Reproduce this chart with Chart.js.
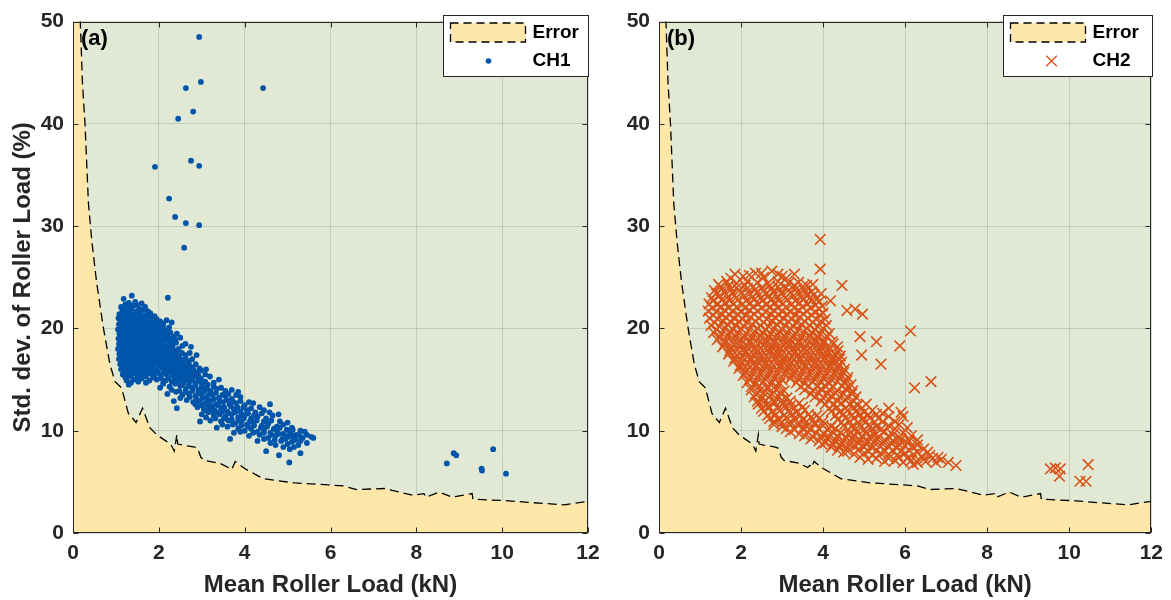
<!DOCTYPE html>
<html><head><meta charset="utf-8">
<script src="https://cdn.jsdelivr.net/npm/chart.js@4.4.1/dist/chart.umd.min.js"></script>
<style>
html,body{margin:0;padding:0;background:#fff;}
#wrap{position:relative;width:1171px;height:600px;overflow:hidden;}
canvas{position:absolute;top:0;}
</style></head><body>
<div id="wrap">
<canvas id="c1" width="620" height="600" style="left:0;width:620px;height:600px"></canvas>
<canvas id="c2" width="551" height="600" style="left:620px;width:551px;height:600px"></canvas>
</div>
<script>
const xTicks=[0,2,4,6,8,10,12];
const yTicks=[0,10,20,30,40,50];
const xTitle='Mean Roller Load (kN)';
const yTitle='Std. dev. of Roller Load (%)';
const legendError='Error';
const series1='CH1', series2='CH2';

// error boundary (mean load vs std-dev)
const errX=[0,0.1,0.17,0.22,0.28,0.36,0.44,0.55,0.71,0.86,0.98,1.13,1.29,1.47,1.62,1.79,1.95,2.22,2.30,2.36,2.42,2.44,2.55,2.84,2.9,2.98,3.05,3.43,3.62,3.68,3.72,3.78,4.0,4.44,5.16,5.96,6.3,6.61,7.25,7.6,7.91,8.18,8.22,8.54,8.83,9.3,9.32,10.15,10.6,11.44,12];
const errY=[120,62,50,44,40,32.2,28.5,24.5,20,16.5,14.8,14.2,11.7,10.8,12.2,10.3,9.6,8.85,8.5,8.0,9.6,8.7,8.6,8.4,8.3,7.4,7.1,6.8,6.4,6.6,6.4,7.0,6.3,5.3,4.9,4.7,4.6,4.25,4.35,4.0,3.7,3.85,3.5,4.0,3.5,3.85,3.3,3.15,3.0,2.75,3.1];

const ch1=[
[2.94,48.5],[2.98,44.1],[2.63,43.5],[4.43,43.5],[2.80,41.2],[2.45,40.5],[2.75,36.4],[2.94,35.9],[1.91,35.8],[2.24,32.7],[2.38,30.9],[2.63,30.3],[2.94,30.1],[2.59,27.9],[2.21,23.0],
[8.71,6.8],[8.87,7.8],[8.93,7.6],[9.52,6.3],[9.53,6.1],[9.79,8.2],[10.09,5.8],
[1.18,22.9],[1.37,23.2],[1.30,22.5],[1.45,22.6],
[1.12,22.1],[1.25,21.9],[1.40,22.2],[1.55,21.9],[1.68,22.1],
[1.08,21.4],[1.19,21.6],[1.31,21.5],[1.43,21.4],[1.56,21.6],[1.69,21.3],[1.80,21.5],
[1.06,21.0],[1.16,20.9],[1.27,21.1],[1.37,20.9],[1.48,21.0],[1.59,21.1],[1.71,20.8],[1.84,21.0],[1.95,20.9],
[1.07,20.4],[1.17,20.6],[1.27,20.5],[1.38,20.4],[1.49,20.6],[1.61,20.5],[1.72,20.4],[1.85,20.6],[1.97,20.4],[2.10,20.5],[2.30,20.6],
[1.05,19.9],[1.14,20.1],[1.24,20.0],[1.34,19.9],[1.45,20.1],[1.56,20.0],[1.66,19.9],[1.78,20.1],[1.91,19.9],[2.04,20.0],[2.16,19.8],
[1.08,19.5],[1.18,19.4],[1.29,19.6],[1.40,19.5],[1.51,19.4],[1.62,19.6],[1.73,19.5],[1.84,19.4],[1.96,19.6],[2.09,19.5],[2.20,19.3],[2.35,19.2],[2.50,19.1],
[1.06,19.0],[1.16,19.1],[1.26,18.9],[1.37,19.0],[1.47,19.1],[1.58,18.9],[1.69,19.0],[1.80,19.1],[1.92,18.9],[2.03,19.0],[2.15,18.9],[2.28,18.8],
[1.07,18.5],[1.17,18.4],[1.28,18.6],[1.39,18.5],[1.49,18.4],[1.60,18.6],[1.71,18.5],[1.83,18.4],[1.95,18.6],[2.07,18.5],[2.19,18.3],[2.31,18.4],[2.55,18.3],[2.75,18.2],
[1.05,18.0],[1.15,18.1],[1.25,17.9],[1.35,18.0],[1.46,18.1],[1.57,17.9],[1.68,18.0],[1.79,18.1],[1.90,17.9],[2.02,18.0],[2.13,18.1],[2.25,17.9],[2.38,17.8],
[1.08,17.5],[1.19,17.4],[1.30,17.6],[1.41,17.5],[1.52,17.4],[1.63,17.6],[1.74,17.5],[1.86,17.4],[1.98,17.6],[2.10,17.5],[2.22,17.4],[2.35,17.5],[2.46,17.3],[2.62,17.4],[2.88,17.4],
[1.07,17.0],[1.18,16.9],[1.28,17.1],[1.38,17.0],[1.49,16.9],[1.60,17.1],[1.72,17.0],[1.83,16.9],[1.94,17.1],[2.06,17.0],[2.18,16.9],[2.30,17.0],[2.42,16.8],[2.55,16.9],[2.70,16.8],
[1.10,16.5],[1.21,16.4],[1.32,16.6],[1.43,16.5],[1.55,16.4],[1.66,16.6],[1.77,16.5],[1.89,16.4],[2.01,16.6],[2.13,16.5],[2.25,16.4],[2.37,16.5],[2.50,16.3],[2.62,16.4],[2.78,16.2],[2.95,16.1],
[1.12,16.0],[1.24,15.9],[1.35,16.1],[1.47,16.0],[1.58,15.9],[1.70,16.1],[1.82,16.0],[1.95,15.9],[2.08,16.1],[2.21,16.0],[2.33,15.9],[2.46,15.9],[2.60,15.8],[2.72,15.9],[2.88,15.7],[3.10,16.0],
[1.16,15.5],[1.28,15.4],[1.40,15.6],[1.53,15.5],[1.65,15.4],[1.78,15.6],[1.91,15.5],[2.05,15.4],[2.18,15.5],[2.32,15.4],[2.45,15.3],[2.58,15.4],[2.70,15.2],[2.83,15.3],[2.98,15.1],[3.19,15.3],
[1.25,14.9],[1.42,15.0],[1.60,15.1],[1.78,14.9],[1.95,15.0],[2.15,14.9],[2.30,14.8],[2.44,14.9],[2.58,14.7],[2.71,14.8],[2.86,14.6],[3.00,14.7],[3.14,14.5],[3.40,15.0],
[1.30,14.5],[2.03,14.2],[2.25,14.3],[2.50,14.4],[2.63,14.1],[2.78,14.2],[2.92,14.0],[3.05,14.2],[3.20,13.9],[3.35,14.1],[3.55,13.9],[3.85,13.8],
[2.20,13.6],[2.40,13.8],[2.55,13.5],[2.70,13.6],[2.85,13.4],[2.98,13.6],[3.12,13.3],[3.25,13.5],[3.40,13.2],[3.55,13.4],[3.70,13.1],[3.90,13.3],
[2.35,12.9],[2.65,13.0],[2.80,12.8],[2.95,12.9],[3.08,12.7],[3.20,12.9],[3.33,12.6],[3.50,12.8],[3.65,12.6],[3.80,12.7],[4.00,12.5],[4.20,12.7],
[2.42,12.2],[2.90,12.3],[3.05,12.1],[3.18,12.3],[3.30,12.0],[3.45,12.2],[3.60,11.9],[3.75,12.1],[3.90,11.9],[4.05,12.0],[4.25,11.8],[4.45,12.0],[4.59,12.6],
[3.00,11.6],[3.15,11.8],[3.28,11.5],[3.42,11.6],[3.55,11.4],[3.70,11.6],[3.85,11.3],[4.00,11.5],[4.15,11.2],[4.30,11.4],[4.50,11.2],[4.65,11.5],[4.79,11.6],
[2.96,10.9],[3.20,11.0],[3.45,10.9],[3.62,11.0],[3.78,10.7],[3.92,10.9],[4.05,10.6],[4.20,10.8],[4.40,10.5],[4.55,10.7],[4.75,10.4],[4.90,10.6],[5.10,10.3],
[3.35,10.3],[3.60,10.4],[3.85,10.2],[4.00,10.0],[4.15,10.2],[4.30,9.9],[4.45,10.1],[4.60,9.8],[4.75,10.0],[4.90,9.7],[5.05,9.9],[5.20,9.6],[5.40,9.9],
[3.66,9.2],[3.75,9.8],[4.10,9.5],[4.35,9.6],[4.55,9.3],[4.72,9.5],[4.88,9.2],[5.02,9.4],[5.18,9.1],[5.35,9.3],[5.55,9.4],[5.60,9.3],
[4.30,9.0],[4.60,8.8],[4.85,9.0],[5.00,8.7],[5.10,8.9],[5.25,8.6],[5.45,8.8],[4.50,8.0],[4.80,7.6],[4.90,8.4],[5.04,6.9],[5.30,7.8],[5.05,8.2],
[1.22,22.35],[1.34,22.25],[1.48,22.3],[1.60,22.45],
[1.15,21.8],[1.25,21.7],[1.36,21.85],[1.49,21.7],[1.62,21.8],[1.74,21.7],
[1.11,21.3],[1.22,21.2],[1.32,21.3],[1.42,21.2],[1.53,21.3],[1.64,21.2],[1.76,21.3],[1.90,21.2],
[1.11,20.7],[1.21,20.8],[1.32,20.7],[1.43,20.8],[1.54,20.7],[1.66,20.8],[1.78,20.7],[1.90,20.8],[2.03,20.7],[2.18,20.8],
[1.10,20.25],[1.20,20.3],[1.30,20.2],[1.41,20.3],[1.52,20.2],[1.63,20.3],[1.74,20.2],[1.86,20.3],[1.98,20.2],[2.10,20.25],[2.24,20.1],
[1.11,19.7],[1.22,19.8],[1.33,19.7],[1.44,19.8],[1.55,19.7],[1.66,19.8],[1.77,19.7],[1.89,19.8],[2.01,19.7],[2.13,19.8],[2.27,19.6],[2.42,19.5],
[1.10,19.2],[1.21,19.3],[1.32,19.2],[1.42,19.3],[1.53,19.2],[1.64,19.3],[1.75,19.2],[1.86,19.3],[1.98,19.2],[2.10,19.3],[2.22,19.1],[2.38,18.9],
[1.11,18.7],[1.22,18.8],[1.33,18.7],[1.44,18.8],[1.55,18.7],[1.66,18.8],[1.77,18.7],[1.89,18.8],[2.01,18.7],[2.13,18.8],[2.25,18.6],[2.40,18.6],[2.62,18.5],
[1.10,18.2],[1.20,18.3],[1.30,18.2],[1.41,18.3],[1.52,18.2],[1.63,18.3],[1.74,18.2],[1.85,18.3],[1.96,18.2],[2.08,18.3],[2.20,18.1],[2.32,18.2],[2.46,18.0],
[1.12,17.7],[1.24,17.8],[1.35,17.7],[1.46,17.8],[1.57,17.7],[1.68,17.8],[1.80,17.7],[1.92,17.8],[2.04,17.7],[2.16,17.8],[2.28,17.6],[2.41,17.7],[2.54,17.6],[2.72,17.6],
[1.12,17.2],[1.23,17.3],[1.33,17.2],[1.44,17.3],[1.55,17.2],[1.66,17.3],[1.78,17.2],[1.89,17.3],[2.00,17.2],[2.12,17.3],[2.24,17.1],[2.36,17.2],[2.48,17.1],[2.62,17.1],[2.78,17.0],
[1.15,16.7],[1.26,16.8],[1.37,16.7],[1.49,16.8],[1.60,16.7],[1.72,16.8],[1.83,16.7],[1.95,16.8],[2.07,16.7],[2.19,16.8],[2.31,16.7],[2.44,16.6],[2.57,16.6],[2.70,16.5],[2.86,16.5],
[1.18,16.2],[1.30,16.3],[1.41,16.2],[1.53,16.3],[1.64,16.2],[1.76,16.3],[1.88,16.2],[2.02,16.3],[2.15,16.2],[2.27,16.3],[2.40,16.1],[2.53,16.1],[2.66,16.0],[2.80,16.0],[2.98,15.9],
[1.22,15.7],[1.34,15.8],[1.47,15.7],[1.59,15.8],[1.72,15.7],[1.85,15.8],[1.98,15.7],[2.12,15.8],[2.25,15.7],[2.39,15.6],[2.52,15.6],[2.64,15.5],[2.77,15.5],[2.92,15.4],[3.08,15.5],
[1.22,15.2],[1.35,15.3],[1.50,15.2],[1.70,15.3],[1.86,15.2],[2.05,15.1],[2.22,15.1],[2.38,15.1],[2.52,15.0],[2.65,15.0],[2.78,14.9],[2.92,14.9],[3.08,14.8],[3.28,14.7],
[1.35,14.7],[1.52,14.8],[1.70,14.7],[2.10,14.6],[2.38,14.6],[2.55,14.5],[2.70,14.4],[2.85,14.4],[3.0,14.3],[3.12,14.1],[3.28,14.3],[3.45,14.2],[3.70,14.0],
[2.30,14.0],[2.48,13.9],[2.62,13.8],[2.78,13.9],[2.92,13.7],[3.05,13.8],[3.18,13.6],[3.33,13.7],[3.48,13.5],[3.62,13.6],[3.80,13.5],
[2.50,13.2],[2.72,13.3],[2.88,13.1],[3.02,13.2],[3.15,13.0],[3.28,13.1],[3.42,12.9],[3.58,13.0],[3.72,12.9],[3.90,12.9],[4.10,12.8],
[2.85,12.6],[2.98,12.5],[3.12,12.6],[3.25,12.4],[3.38,12.5],[3.52,12.3],[3.68,12.4],[3.83,12.3],[3.97,12.3],[4.15,12.2],[4.35,12.3],
[3.08,12.0],[3.22,11.9],[3.35,11.8],[3.48,11.9],[3.62,11.7],[3.78,11.8],[3.93,11.6],[4.08,11.7],[4.22,11.5],[4.40,11.7],[4.58,11.8],
[3.10,11.3],[3.32,11.2],[3.52,11.2],[3.70,11.1],[3.85,11.0],[3.98,11.2],[4.12,10.9],[4.28,11.0],[4.45,10.9],[4.62,11.0],[4.82,10.9],[5.0,10.8],
[3.48,10.6],[3.72,10.6],[3.92,10.5],[4.08,10.4],[4.22,10.5],[4.38,10.3],[4.52,10.4],[4.68,10.2],[4.82,10.3],[4.98,10.1],[5.12,10.1],[5.30,10.0],
[3.90,9.9],[4.20,9.8],[4.45,9.8],[4.62,9.6],[4.80,9.7],[4.95,9.5],[5.10,9.6],[5.28,9.5],[5.45,9.6],
[4.45,9.2],[4.70,9.1],[4.95,9.2],[5.15,9.2],[5.30,9.0],[4.72,8.6],[5.15,8.4]
];

const ch2=[
[3.93,28.7],[3.93,25.8],[4.46,24.2],[4.18,22.7],[4.58,21.75],[4.78,21.9],[4.96,21.4],[4.9,19.2],[5.3,18.7],[5.41,16.5],[5.87,18.3],[6.13,19.75],[6.23,14.2],[6.63,14.8],[4.94,17.4],[3.75,24.3],[3.95,23.4],
[9.54,6.26],[9.66,6.36],[9.78,6.26],[9.76,5.55],[10.46,6.68],[10.26,5.06],[10.41,5.06],
[2.05,25.1],[2.35,25.4],[2.75,25.6],[3.3,25.3],[1.75,24.9],[2.55,25.0],[3.0,25.1],
[1.45,24.3],[1.65,24.6],[1.9,24.4],[2.15,24.6],[2.4,24.5],[2.65,24.4],[2.9,24.6],[3.15,24.4],[3.4,24.5],[3.6,24.2],
[1.35,23.7],[1.55,23.9],[1.75,23.8],[1.95,23.7],[2.15,23.9],[2.35,23.8],[2.55,23.7],[2.75,23.9],[2.95,23.8],[3.15,23.7],[3.35,23.9],[3.55,23.7],[3.72,23.6],
[1.28,23.0],[1.48,23.2],[1.68,23.1],[1.88,23.0],[2.08,23.2],[2.28,23.1],[2.48,23.0],[2.68,23.2],[2.88,23.1],[3.08,23.0],[3.28,23.2],[3.48,23.1],[3.68,23.0],[3.85,22.9],
[1.22,22.4],[1.42,22.3],[1.62,22.5],[1.82,22.4],[2.02,22.3],[2.22,22.5],[2.42,22.4],[2.62,22.3],[2.82,22.5],[3.02,22.4],[3.22,22.3],[3.42,22.5],[3.62,22.4],[3.82,22.3],[3.98,22.2],
[1.2,21.7],[1.4,21.6],[1.6,21.8],[1.8,21.7],[2.0,21.6],[2.2,21.8],[2.4,21.7],[2.6,21.6],[2.8,21.8],[3.0,21.7],[3.2,21.6],[3.4,21.8],[3.6,21.7],[3.8,21.6],[4.0,21.5],
[1.23,21.0],[1.43,20.9],[1.63,21.1],[1.83,21.0],[2.03,20.9],[2.23,21.1],[2.43,21.0],[2.63,20.9],[2.83,21.1],[3.03,21.0],[3.23,20.9],[3.43,21.1],[3.63,21.0],[3.83,20.9],[4.05,20.9],
[1.27,20.3],[1.47,20.2],[1.67,20.4],[1.87,20.3],[2.07,20.2],[2.27,20.4],[2.47,20.3],[2.67,20.2],[2.87,20.4],[3.07,20.3],[3.27,20.2],[3.47,20.4],[3.67,20.3],[3.87,20.2],[4.08,20.3],
[1.33,19.6],[1.53,19.5],[1.73,19.7],[1.93,19.6],[2.13,19.5],[2.33,19.7],[2.53,19.6],[2.73,19.5],[2.93,19.7],[3.13,19.6],[3.33,19.5],[3.53,19.7],[3.73,19.6],[3.93,19.5],[4.15,19.5],
[1.42,18.9],[1.62,18.8],[1.82,19.0],[2.02,18.9],[2.22,18.8],[2.42,19.0],[2.62,18.9],[2.82,18.8],[3.02,19.0],[3.22,18.9],[3.42,18.8],[3.62,19.0],[3.82,18.9],[4.02,18.8],[4.22,18.7],
[1.55,18.2],[1.75,18.1],[1.95,18.3],[2.15,18.2],[2.35,18.1],[2.55,18.3],[2.75,18.2],[2.95,18.1],[3.15,18.3],[3.35,18.2],[3.55,18.1],[3.75,18.3],[3.95,18.2],[4.15,18.1],[4.35,18.2],
[1.7,17.5],[1.9,17.4],[2.1,17.6],[2.3,17.5],[2.5,17.4],[2.7,17.6],[2.9,17.5],[3.1,17.4],[3.3,17.6],[3.5,17.5],[3.7,17.4],[3.9,17.6],[4.1,17.5],[4.3,17.4],[4.42,17.3],
[1.82,16.8],[2.02,16.7],[2.22,16.9],[2.42,16.8],[2.62,16.7],[2.82,16.9],[3.02,16.8],[3.22,16.7],[3.42,16.9],[3.62,16.8],[3.82,16.7],[4.02,16.9],[4.22,16.8],[4.45,16.7],
[1.95,16.1],[2.15,16.0],[2.35,16.2],[2.55,16.1],[2.75,16.0],[2.95,16.2],[3.15,16.1],[3.35,16.0],[3.55,16.2],[3.75,16.1],[3.95,16.0],[4.15,16.2],[4.35,16.1],[4.52,16.0],
[2.05,15.4],[2.25,15.3],[2.45,15.5],[2.65,15.4],[2.85,15.3],[3.05,15.5],[3.25,15.4],[3.45,15.3],[3.65,15.5],[3.85,15.4],[4.05,15.3],[4.25,15.5],[4.45,15.4],[4.6,15.2],
[2.15,14.7],[2.35,14.6],[2.55,14.8],[2.75,14.7],[2.95,14.6],[3.35,14.7],[3.55,14.6],[3.75,14.8],[3.95,14.7],[4.15,14.6],[4.35,14.8],[4.55,14.7],[4.68,14.5],
[2.25,14.0],[2.45,13.9],[2.65,14.1],[2.85,14.0],[3.05,13.9],[3.55,14.0],[3.75,13.9],[3.95,14.1],[4.15,14.0],[4.35,13.9],[4.55,14.1],[4.72,13.9],
[2.32,13.3],[2.52,13.2],[2.72,13.4],[2.92,13.3],[3.12,13.2],[3.8,13.3],[4.0,13.2],[4.2,13.4],[4.4,13.3],[4.6,13.2],[4.8,13.3],
[2.42,12.6],[2.62,12.5],[2.82,12.7],[3.02,12.6],[3.22,12.5],[3.42,12.7],[4.05,12.6],[4.25,12.5],[4.45,12.7],[4.65,12.6],[4.85,12.5],[5.05,12.6],[5.6,12.2],
[2.55,11.9],[2.75,11.8],[2.95,12.0],[3.15,11.9],[3.35,11.8],[3.55,12.0],[4.2,11.9],[4.4,11.8],[4.6,12.0],[4.8,11.9],[5.0,11.8],[5.2,12.0],[5.45,11.7],[5.9,11.8],
[2.7,11.2],[2.9,11.1],[3.1,11.3],[3.3,11.2],[3.5,11.1],[3.7,11.3],[3.9,11.2],[4.35,11.1],[4.55,11.3],[4.75,11.2],[4.95,11.1],[5.15,11.3],[5.35,11.2],[5.6,11.4],[5.95,11.4],[5.75,10.9],
[2.8,10.6],[3.0,10.4],[3.2,10.6],[3.4,10.5],[3.6,10.4],[3.8,10.6],[4.0,10.5],[4.2,10.4],[4.5,10.5],[4.7,10.4],[4.9,10.6],[5.1,10.5],[5.3,10.4],[5.6,10.5],[5.85,10.6],[6.05,10.3],
[3.2,9.9],[3.42,9.7],[3.62,9.9],[3.82,9.8],[4.02,9.7],[4.22,9.9],[4.42,9.8],[4.62,9.7],[4.82,9.9],[5.02,9.8],[5.22,9.7],[5.5,9.9],[5.7,9.6],[5.95,9.8],[6.15,9.5],
[3.7,9.2],[3.9,9.0],[4.1,9.2],[4.3,9.1],[4.5,9.0],[4.7,9.2],[4.9,9.1],[5.1,9.0],[5.3,9.2],[5.5,9.1],[5.7,9.0],[5.9,9.2],[6.1,9.0],[6.3,9.1],
[3.97,8.7],[4.2,8.4],[4.4,8.5],[4.6,8.3],[4.8,8.5],[5.0,8.4],[5.2,8.3],[5.4,8.5],[5.6,8.4],[5.8,8.3],[6.0,8.5],[6.2,8.4],[6.45,8.2],
[4.5,7.9],[4.75,7.7],[5.0,7.8],[5.2,7.6],[5.4,7.8],[5.6,7.7],[5.8,7.6],[6.0,7.8],[6.2,7.7],[6.4,7.5],[6.6,7.6],[6.8,7.4],
[5.1,7.2],[5.5,7.0],[5.75,7.1],[5.95,6.9],[6.15,7.1],[6.3,6.9],[6.5,7.0],[6.67,7.3],[6.88,7.2],[7.05,6.9],[7.24,6.6],[6.2,6.7],
[1.85,25.3],[2.2,25.2],[2.5,25.4],[2.9,25.3],[3.1,24.9],
[1.5,24.1],[1.7,24.2],[1.9,24.0],[2.1,24.2],[2.3,24.1],[2.5,24.0],[2.7,24.2],[2.9,24.1],[3.1,24.0],[3.3,24.2],[3.5,24.1],
[1.4,23.4],[1.6,23.5],[1.8,23.4],[2.0,23.5],[2.2,23.4],[2.4,23.5],[2.6,23.4],[2.8,23.5],[3.0,23.4],[3.2,23.5],[3.4,23.4],[3.6,23.3],[3.78,23.3],
[1.32,22.7],[1.52,22.8],[1.72,22.7],[1.92,22.8],[2.12,22.7],[2.32,22.8],[2.52,22.7],[2.72,22.8],[2.92,22.7],[3.12,22.8],[3.32,22.7],[3.52,22.8],[3.72,22.7],[3.9,22.6],
[1.3,22.0],[1.5,22.1],[1.7,22.0],[1.9,22.1],[2.1,22.0],[2.3,22.1],[2.5,22.0],[2.7,22.1],[2.9,22.0],[3.1,22.1],[3.3,22.0],[3.5,22.1],[3.7,22.0],[3.9,21.9],
[1.32,21.3],[1.52,21.4],[1.72,21.3],[1.92,21.4],[2.12,21.3],[2.32,21.4],[2.52,21.3],[2.72,21.4],[2.92,21.3],[3.12,21.4],[3.32,21.3],[3.52,21.4],[3.72,21.3],[3.92,21.3],
[1.35,20.6],[1.55,20.7],[1.75,20.6],[1.95,20.7],[2.15,20.6],[2.35,20.7],[2.55,20.6],[2.75,20.7],[2.95,20.6],[3.15,20.7],[3.35,20.6],[3.55,20.7],[3.75,20.6],[3.95,20.7],
[1.4,19.9],[1.6,20.0],[1.8,19.9],[2.0,20.0],[2.2,19.9],[2.4,20.0],[2.6,19.9],[2.8,20.0],[3.0,19.9],[3.2,20.0],[3.4,19.9],[3.6,20.0],[3.8,19.9],[4.0,20.0],
[1.48,19.2],[1.68,19.3],[1.88,19.2],[2.08,19.3],[2.28,19.2],[2.48,19.3],[2.68,19.2],[2.88,19.3],[3.08,19.2],[3.28,19.3],[3.48,19.2],[3.68,19.3],[3.88,19.2],[4.1,19.2],
[1.6,18.5],[1.8,18.6],[2.0,18.5],[2.2,18.6],[2.4,18.5],[2.6,18.6],[2.8,18.5],[3.0,18.6],[3.2,18.5],[3.4,18.6],[3.6,18.5],[3.8,18.6],[4.0,18.5],[4.25,18.5],
[1.72,17.8],[1.92,17.9],[2.12,17.8],[2.32,17.9],[2.52,17.8],[2.72,17.9],[2.92,17.8],[3.12,17.9],[3.32,17.8],[3.52,17.9],[3.72,17.8],[3.92,17.9],[4.12,17.8],[4.36,17.8],
[1.85,17.1],[2.05,17.2],[2.25,17.1],[2.45,17.2],[2.65,17.1],[2.85,17.2],[3.05,17.1],[3.25,17.2],[3.45,17.1],[3.65,17.2],[3.85,17.1],[4.05,17.2],[4.25,17.1],[4.4,17.0],
[1.98,16.4],[2.18,16.5],[2.38,16.4],[2.58,16.5],[2.78,16.4],[2.98,16.5],[3.18,16.4],[3.38,16.5],[3.58,16.4],[3.78,16.5],[3.98,16.4],[4.18,16.5],[4.38,16.4],
[2.1,15.7],[2.3,15.8],[2.5,15.7],[2.7,15.8],[2.9,15.7],[3.1,15.8],[3.3,15.7],[3.5,15.8],[3.7,15.7],[3.9,15.8],[4.1,15.7],[4.3,15.8],[4.5,15.7],
[2.2,15.0],[2.4,15.1],[2.6,15.0],[2.8,15.1],[3.0,15.0],[3.2,15.1],[3.4,15.0],[3.6,15.1],[3.8,15.0],[4.0,15.1],[4.2,15.0],[4.4,15.1],[4.58,14.9],
[2.25,14.3],[2.45,14.4],[2.65,14.3],[2.85,14.4],[3.45,14.3],[3.65,14.4],[3.85,14.3],[4.05,14.4],[4.25,14.3],[4.45,14.4],[4.62,14.2],
[2.35,13.6],[2.55,13.7],[2.75,13.6],[2.95,13.7],[3.7,13.6],[3.9,13.7],[4.1,13.6],[4.3,13.7],[4.5,13.6],[4.7,13.6],
[2.4,12.9],[2.6,13.0],[2.8,12.9],[3.0,13.0],[3.2,12.9],[3.95,12.9],[4.15,13.0],[4.35,12.9],[4.55,13.0],[4.75,12.9],
[2.5,12.2],[2.7,12.3],[2.9,12.2],[3.1,12.3],[3.3,12.2],[3.5,12.3],[4.15,12.2],[4.35,12.3],[4.55,12.2],[4.75,12.3],[4.95,12.2],
[2.65,11.5],[2.85,11.6],[3.05,11.5],[3.25,11.6],[3.45,11.5],[3.65,11.6],[3.85,11.5],[4.3,11.5],[4.5,11.6],[4.7,11.5],[4.9,11.6],[5.1,11.5],[5.3,11.6],
[2.8,10.9],[3.0,10.8],[3.2,10.9],[3.4,10.8],[3.6,10.9],[3.8,10.8],[4.0,10.9],[4.45,10.8],[4.65,10.9],[4.85,10.8],[5.05,10.9],[5.25,10.8],[5.45,10.9],
[3.1,10.2],[3.3,10.1],[3.5,10.2],[3.7,10.1],[3.9,10.2],[4.1,10.1],[4.3,10.2],[4.6,10.1],[4.8,10.2],[5.0,10.1],[5.2,10.2],[5.4,10.1],[5.75,10.2],
[3.55,9.5],[3.75,9.4],[3.95,9.5],[4.15,9.4],[4.35,9.5],[4.55,9.4],[4.75,9.5],[4.95,9.4],[5.15,9.5],[5.35,9.4],[5.6,9.4],[5.85,9.3],
[4.05,8.8],[4.25,8.7],[4.45,8.8],[4.65,8.7],[4.85,8.8],[5.05,8.7],[5.25,8.8],[5.45,8.7],[5.65,8.8],[5.85,8.7],[6.05,8.8],[6.3,8.6],
[4.35,8.1],[4.6,8.0],[4.85,8.1],[5.1,8.0],[5.3,8.1],[5.5,8.0],[5.7,8.1],[5.9,8.0],[6.1,8.1],[6.3,7.9],[6.55,7.9],
[4.9,7.4],[5.3,7.3],[5.6,7.3],[5.85,7.4],[6.05,7.3],[6.45,7.2],[6.75,6.9]
];

const FONT="'Liberation Sans', Arial, Helvetica, sans-serif";
const TXT='#262626';
const GREEN='#E1E9D4', YELLOW='#FFE6A9';
const BLUE='#0055AA', ORANGE='#D95319';

const framePlugin={
  id:'frame',
  beforeDraw(chart){
    const {ctx,chartArea:a}=chart;
    ctx.save();ctx.fillStyle=GREEN;ctx.fillRect(a.left,a.top,a.right-a.left,a.bottom-a.top);ctx.restore();
  },
  afterDraw(chart,args,o){
    const {ctx,chartArea:a,scales:{x,y}}=chart;
    ctx.save();
    ctx.strokeStyle=TXT;ctx.lineWidth=1;ctx.setLineDash([]);
    const L=Math.round(a.left)+0.5,R=Math.round(a.right)-0.5,T=Math.round(a.top)+0.5,B=Math.round(a.bottom)-0.5;
    ctx.beginPath();
    xTicks.forEach(v=>{const p=Math.round(x.getPixelForValue(v))+0.5;ctx.moveTo(p,B);ctx.lineTo(p,B-5);ctx.moveTo(p,T);ctx.lineTo(p,T+5);});
    yTicks.forEach(v=>{const p=Math.round(y.getPixelForValue(v))+0.5;ctx.moveTo(L,p);ctx.lineTo(L+5,p);ctx.moveTo(R,p);ctx.lineTo(R-5,p);});
    ctx.stroke();
    ctx.strokeRect(L,T,R-L,B-T);
    ctx.fillStyle='#000';ctx.font='bold 22px '+FONT;ctx.textBaseline='middle';ctx.textAlign='left';
    ctx.fillText(o.tag,a.left+8,a.top+17);
    const bw=o.legendW,bh=61;
    const bx=Math.round(a.right)+o.legendDx-bw+0.5,by=15.5;
    ctx.fillStyle='#fff';ctx.fillRect(bx,by,bw,bh);
    ctx.strokeStyle=TXT;ctx.lineWidth=1;ctx.strokeRect(bx,by,bw,bh);
    ctx.fillStyle=YELLOW;ctx.fillRect(bx+7,23,75,19);
    ctx.strokeStyle='#000';ctx.lineWidth=1.3;ctx.setLineDash([8,5]);
    ctx.strokeRect(bx+7,23,75,19);
    ctx.setLineDash([]);
    ctx.fillStyle='#000';ctx.font='bold 19px '+FONT;ctx.textBaseline='middle';
    ctx.fillText(legendError,bx+89,33);
    ctx.fillText(o.series,bx+89,61);
    if(o.marker==='dot'){
      ctx.fillStyle=BLUE;ctx.beginPath();ctx.arc(bx+45,61,2.8,0,Math.PI*2);ctx.fill();
    }else{
      const cx=bx+48,cy=61,h=5.3;
      ctx.strokeStyle=ORANGE;ctx.lineWidth=1.3;ctx.beginPath();
      ctx.moveTo(cx-h,cy-h);ctx.lineTo(cx+h,cy+h);ctx.moveTo(cx+h,cy-h);ctx.lineTo(cx-h,cy+h);ctx.stroke();
    }
    ctx.restore();
  }
};

function errData(){return errX.map((v,i)=>({x:v,y:errY[i]}));}
function pts(arr){return arr.map(p=>({x:p[0],y:p[1]}));}

function makeChart(id,opt){
  const tickFont={family:FONT,size:21,weight:'bold'};
  const titleFont={family:FONT,size:24,weight:'bold',lineHeight:1};
  return new Chart(document.getElementById(id),{
    type:'scatter',
    data:{datasets:[
      {label:legendError,data:errData(),showLine:true,fill:'origin',backgroundColor:YELLOW,borderColor:'#000',borderWidth:1.3,borderDash:[9,5],pointRadius:0,tension:0,order:2},
      opt.dataset
    ]},
    options:{
      responsive:false,animation:false,devicePixelRatio:1,events:[],
      layout:{padding:{top:17,right:opt.padRight,left:0,bottom:0}},
      plugins:{legend:{display:false},tooltip:{enabled:false},frame:{tag:opt.tag,series:opt.series,marker:opt.marker,legendW:opt.legendW,legendDx:opt.legendDx}},
      scales:{
        x:{type:'linear',min:0,max:12,
          afterBuildTicks(s){s.ticks=xTicks.map(v=>({value:v}));},
          afterFit(s){s.height=67;},
          grid:{color:'rgba(38,38,38,0.15)',drawTicks:false},border:{display:false},
          ticks:{font:tickFont,color:TXT,padding:8,maxRotation:0},
          title:{display:true,text:xTitle,color:TXT,font:titleFont,padding:{top:0,bottom:3}}},
        y:{type:'linear',min:0,max:50,
          afterBuildTicks(s){s.ticks=yTicks.map(v=>({value:v}));},
          afterFit(s){s.width=opt.yWidth;},
          grid:{color:'rgba(38,38,38,0.15)',drawTicks:false},border:{display:false},
          ticks:{font:tickFont,color:TXT,padding:9},
          title:{display:opt.yTitle,text:yTitle,color:TXT,font:titleFont,padding:{top:11,bottom:0}}}
      }
    },
    plugins:[framePlugin]
  });
}

makeChart('c1',{tag:'(a)',series:series1,marker:'dot',legendW:145,legendDx:0,padRight:32,yWidth:73,yTitle:true,
  dataset:{label:series1,data:pts(ch1),pointStyle:'circle',pointRadius:2.9,backgroundColor:BLUE,borderColor:BLUE,borderWidth:0,order:1}});
makeChart('c2',{tag:'(b)',series:series2,marker:'cross',legendW:149,legendDx:1,padRight:16,yWidth:39,yTitle:false,
  dataset:{label:series2,data:pts(ch2),pointStyle:'crossRot',pointRadius:7.5,borderColor:ORANGE,backgroundColor:ORANGE,borderWidth:1.6,order:1}});
</script>
</body></html>
